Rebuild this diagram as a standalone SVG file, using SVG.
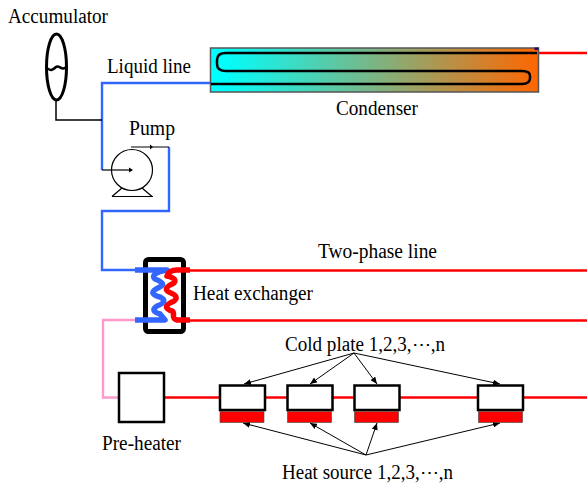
<svg xmlns="http://www.w3.org/2000/svg" width="587" height="483" viewBox="0 0 587 483">
<style>
text{font-family:"Liberation Serif","Times New Roman",serif;font-size:20px;fill:#000}
.blue{fill:none;stroke:#3366ff;stroke-width:2.4}
.red{fill:none;stroke:#ff0000;stroke-width:2.6}
.pink{fill:none;stroke:#ff99cc;stroke-width:2.4}
.blk{fill:none;stroke:#000;stroke-width:1.5}
.thin{fill:none;stroke:#000;stroke-width:1.2}
.box{fill:#fff;stroke:#000;stroke-width:2.5}
.src{fill:#ff0000;stroke:#444;stroke-width:.6}
.lead{fill:none;stroke:#000;stroke-width:1;marker-end:url(#ah)}
</style>
<defs>
<linearGradient id="g" x1="0" x2="1" y1="0" y2="0"><stop offset="0.03" stop-color="#00ffff"/><stop offset="1" stop-color="#ff6600"/></linearGradient>
<marker id="ah" markerUnits="userSpaceOnUse" markerWidth="8" markerHeight="6" refX="7" refY="3" orient="auto"><path d="M0,0L7,3L0,6z" fill="#000"/></marker>
</defs>
<g id="connectors">
<path class="blue" d="M211,83H102V170"/>
<path class="blue" d="M169,147V211H102V270H140"/>
<path class="blk" d="M56,101V120H102"/>
<path class="thin" d="M102,170H132"/><path d="M129,167.500L133,170L129,172.500z"/>
<path class="thin" d="M131,147H169"/><path d="M150,144.500L153,147L150,149.500z"/>
<path class="pink" d="M136,320H103V397.500H120"/>
<path class="red" d="M537,53H587"/>
<path class="red" d="M185,270.500H587"/>
<path class="red" d="M185,320.500H587"/>
<path class="red" d="M165,397.500H587"/>
<path class="lead" d="M354,353L244,384"/>
<path class="lead" d="M354,353L310,384"/>
<path class="lead" d="M354,353L377,384"/>
<path class="lead" d="M354,353L500,384"/>
<path class="lead" d="M366,455L243,423"/>
<path class="lead" d="M366,455L310,423"/>
<path class="lead" d="M366,455L377,423"/>
<path class="lead" d="M366,455L500,423"/>
</g>
<g id="accumulator">
<ellipse cx="56.500" cy="67" rx="10" ry="33" fill="#fff" stroke="#000" stroke-width="3"/>
<path d="M46,67C50,72 53,70 56,67C59,64 62,72 66,67" fill="none" stroke="#000" stroke-width="2.500"/>
<text x="58" y="23" text-anchor="middle" textLength="100" lengthAdjust="spacingAndGlyphs">Accumulator</text>
</g>
<g id="liquid-line-label"><text x="149" y="73" text-anchor="middle" textLength="84" lengthAdjust="spacingAndGlyphs">Liquid line</text></g>
<g id="condenser">
<rect x="210.500" y="48" width="328" height="44" fill="url(#g)" stroke="#555" stroke-width="1.500"/>
<path d="M534.500,47.500H538.500V50H534.500z" fill="#330066"/>
<path d="M537,53H226Q217,53 217,60V64Q217,71 226,71H522Q530,71 530,76V78Q530,84 522,84H211" fill="none" stroke="#000" stroke-width="2.500"/>
<text x="377" y="115" text-anchor="middle" textLength="82" lengthAdjust="spacingAndGlyphs">Condenser</text>
</g>
<g id="pump">
<circle cx="132" cy="170" r="20.500" fill="none" stroke="#000" stroke-width="1.200"/>
<path class="thin" d="M112,196.500L122,188M152,196.500L142,188M112,196.500H153"/>
<text x="152" y="135" text-anchor="middle" textLength="46" lengthAdjust="spacingAndGlyphs">Pump</text>
</g>
<g id="heat-exchanger">
<rect x="145.500" y="259.500" width="38" height="72" rx="3" fill="#fff" stroke="#000" stroke-width="5"/>
<path d="M135,270H167C155,272 151,276 155,279C165,283 165,285 156,289C151,292 152,295 160,297C166,300 165,303 157,306C152,309 153,312 160,314L165,320H135" fill="none" stroke="#3366ff" stroke-width="5.500" stroke-linejoin="round"/>
<path d="M190,270H177C171,270 168,273 167,276C176,278 178,282 170,285C165,288 165,291 171,293C178,296 178,300 170,303C165,306 165,309 172,311C176,313 170,318 177,320H190" fill="none" stroke="#ff0000" stroke-width="5.500" stroke-linejoin="round"/>
<text x="253" y="300" text-anchor="middle" textLength="120" lengthAdjust="spacingAndGlyphs">Heat exchanger</text>
</g>
<g id="two-phase-line-label"><text x="377.500" y="258" text-anchor="middle" textLength="119" lengthAdjust="spacingAndGlyphs">Two-phase line</text></g>
<g id="pre-heater">
<rect x="119" y="373" width="45" height="49" class="box"/>
<text x="141.500" y="450" text-anchor="middle" textLength="79" lengthAdjust="spacingAndGlyphs">Pre-heater</text>
</g>
<g id="cold-plate-1"><rect x="220" y="385.500" width="45" height="24.500" class="box"/><rect x="220" y="411.500" width="44" height="11" class="src"/></g>
<g id="cold-plate-2"><rect x="287.500" y="385.500" width="45" height="24.500" class="box"/><rect x="287.500" y="411.500" width="44" height="11" class="src"/></g>
<g id="cold-plate-3"><rect x="354.500" y="385.500" width="45" height="24.500" class="box"/><rect x="354.500" y="411.500" width="44" height="11" class="src"/></g>
<g id="cold-plate-n"><rect x="478" y="385.500" width="45" height="24.500" class="box"/><rect x="478.500" y="411.500" width="44" height="11" class="src"/></g>
<g id="cold-plate-label"><text x="365" y="351" text-anchor="middle" textLength="160" lengthAdjust="spacingAndGlyphs">Cold plate 1,2,3,⋯,n</text></g>
<g id="heat-source-label"><text x="367.500" y="479" text-anchor="middle" textLength="171" lengthAdjust="spacingAndGlyphs">Heat source 1,2,3,⋯,n</text></g>
</svg>
